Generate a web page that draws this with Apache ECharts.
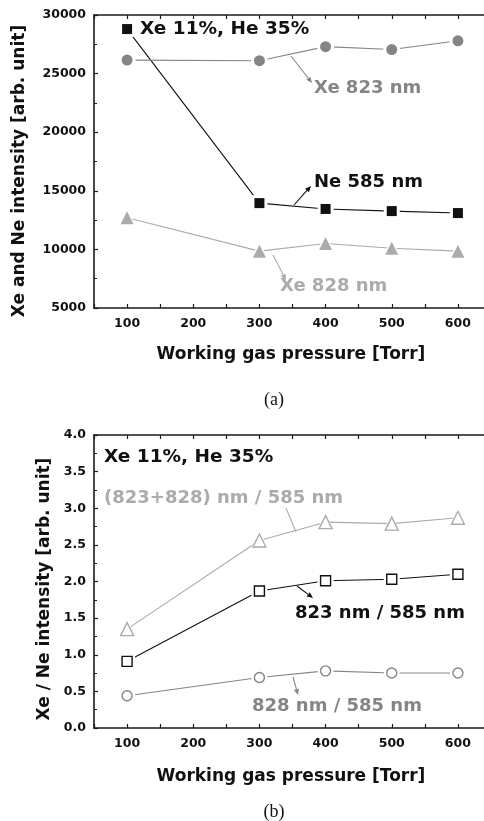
<!DOCTYPE html>
<html>
<head>
<meta charset="utf-8">
<script src="https://cdn.jsdelivr.net/npm/echarts@6/dist/echarts.min.js"></script>
<style>
  html, body { margin: 0; padding: 0; background: #fff; }
  #chart { width: 484px; height: 821px; }
</style>
</head>
<body>
<div id="chart"></div>
<script>
// Working gas pressure [Torr]
const pressure = [100, 300, 400, 500, 600];
const pressureTicks = [100, 200, 300, 400, 500, 600];

// (a) emission intensities [arb. unit]
const ne585 = [28800, 13950, 13450, 13270, 13100];
const xe823 = [26150, 26100, 27300, 27050, 27800];
const xe828 = [12700, 9850, 10500, 10100, 9850];

// (b) intensity ratios
const ratioSum = [1.35, 2.56, 2.81, 2.79, 2.87];
const ratio823 = [0.91, 1.87, 2.01, 2.03, 2.10];
const ratio828 = [0.44, 0.69, 0.78, 0.75, 0.75];

const FONT = 'DejaVu Sans';
const AXIS_COLOR = '#1a1a1a';
const BLACK = '#111';
const MID_GRAY = '#858585';
const LIGHT_GRAY = '#ababab';

const pairs = (ys) => pressure.map((x, i) => [x, ys[i]]);

function xAxisPair(gridIndex) {
  const base = {
    type: 'value', gridIndex, min: 50, max: 650, interval: 50,
    axisLine: { show: true, lineStyle: { color: AXIS_COLOR, width: 1.6 } },
    axisTick: { show: true, inside: true, length: 4, lineStyle: { color: AXIS_COLOR, width: 1.2 } },
    splitLine: { show: false }
  };
  return [
    Object.assign({}, base, {
      position: 'bottom',
      axisLabel: {
        customValues: pressureTicks, margin: 9,
        fontFamily: FONT, fontWeight: 'bold', fontSize: 12.5, color: BLACK
      }
    }),
    Object.assign({}, base, { position: 'top', axisLabel: { show: false } })
  ];
}

function yAxis(gridIndex, min, max, interval, fmt) {
  return {
    type: 'value', gridIndex, min, max, interval, position: 'left',
    axisLine: { show: true, lineStyle: { color: AXIS_COLOR, width: 1.6 } },
    axisTick: { show: true, inside: true, length: 4, lineStyle: { color: AXIS_COLOR, width: 1.2 } },
    minorTick: { show: true, splitNumber: 2, length: 3, lineStyle: { color: AXIS_COLOR, width: 1 } },
    splitLine: { show: false },
    axisLabel: {
      margin: 8, formatter: fmt,
      fontFamily: FONT, fontWeight: 'bold', fontSize: 12.5, color: BLACK
    }
  };
}

// Each curve: a plain line, a white halo that opens a small gap in the
// line around every point, and the point markers on top.
function curve(name, data, xi, yi, color, symbol, size, filled) {
  const common = { xAxisIndex: xi, yAxisIndex: yi, data: pairs(data),
                   emphasis: { disabled: true }, silent: true, animation: false };
  return [
    Object.assign({ name, type: 'line', showSymbol: false, z: 2,
                    lineStyle: { color, width: 1.1 } }, common),
    Object.assign({ type: 'scatter', symbol, symbolSize: size + 6, z: 3,
                    itemStyle: { color: '#fff', opacity: 1 } }, common),
    Object.assign({ type: 'scatter', symbol, symbolSize: size, z: 4,
                    itemStyle: filled
                      ? { color, borderWidth: 0, opacity: 1 }
                      : { color: '#fff', borderColor: color, borderWidth: 1.4, opacity: 1 } }, common)
  ];
}

function text(str, x, y, opts) {
  return {
    type: 'text', silent: true,
    rotation: (opts && opts.rotation) || 0,
    x, y,
    style: Object.assign({
      text: str, x: 0, y: 0,
      fontFamily: FONT, fontWeight: 'bold', fontSize: 18, fill: BLACK,
      align: 'left', verticalAlign: 'middle'
    }, opts && opts.style)
  };
}

function arrow(x1, y1, x2, y2, color, head) {
  const ang = Math.atan2(y2 - y1, x2 - x1);
  const len = head ? 6 : 0, half = 2.6;
  const bx = x2 - len * Math.cos(ang), by = y2 - len * Math.sin(ang);
  const px = -Math.sin(ang) * half, py = Math.cos(ang) * half;
  const parts = [
    { type: 'line', silent: true, z: 10, shape: { x1, y1, x2: bx, y2: by },
      style: { stroke: color, lineWidth: 1.1 } }
  ];
  if (head) {
    parts.push({ type: 'polygon', silent: true, z: 10,
      shape: { points: [[x2, y2], [bx + px, by + py], [bx - px, by - py]] },
      style: { fill: color } });
  }
  return parts;
}

const graphics = [
  // axis titles
  text('Xe and Ne intensity [arb. unit]', 20, 171,
       { rotation: Math.PI / 2, style: { fontSize: 17, align: 'center' } }),
  text('Working gas pressure [Torr]', 291, 355,
       { style: { fontSize: 17, align: 'center' } }),
  text('Xe / Ne intensity [arb. unit]', 45, 589,
       { rotation: Math.PI / 2, style: { fontSize: 17, align: 'center' } }),
  text('Working gas pressure [Torr]', 291, 777,
       { style: { fontSize: 17, align: 'center' } }),
  // panel captions
  text('(a)', 274, 400, { style: { fontFamily: 'Liberation Serif', fontWeight: 'normal', fontSize: 18, align: 'center' } }),
  text('(b)', 274, 812, { style: { fontFamily: 'Liberation Serif', fontWeight: 'normal', fontSize: 18, align: 'center' } }),
  // (a) annotations
  text('Xe 11%, He 35%', 140, 29, { style: { fontSize: 18.5 } }),
  text('Xe 823 nm', 314, 88, { style: { fill: MID_GRAY } }),
  text('Ne 585 nm', 314, 182),
  text('Xe 828 nm', 280, 286, { style: { fill: LIGHT_GRAY } }),
  ...arrow(291, 56, 312, 83, MID_GRAY, true),
  ...arrow(294, 205, 311, 186, BLACK, true),
  ...arrow(273, 255, 286, 280, LIGHT_GRAY, true),
  // (b) annotations
  text('Xe 11%, He 35%', 104, 457, { style: { fontSize: 18.5 } }),
  text('(823+828) nm / 585 nm', 104, 498, { style: { fill: LIGHT_GRAY } }),
  text('823 nm / 585 nm', 295, 613),
  text('828 nm / 585 nm', 252, 706, { style: { fill: MID_GRAY } }),
  ...arrow(296, 532, 286, 508, LIGHT_GRAY, false),
  ...arrow(297, 586, 313, 598, BLACK, true),
  ...arrow(293, 677, 298, 695, MID_GRAY, true)
];

const chart = echarts.init(document.getElementById('chart'), null, { renderer: 'canvas' });
chart.setOption({
  backgroundColor: '#fff',
  animation: false,
  grid: [
    { left: 94, top: 15, width: 397, height: 293, outerBoundsMode: 'none', containLabel: false },
    { left: 94, top: 435, width: 397, height: 293, outerBoundsMode: 'none', containLabel: false }
  ],
  xAxis: [...xAxisPair(0), ...xAxisPair(1)],
  yAxis: [
    yAxis(0, 5000, 30000, 5000, (v) => String(v)),
    yAxis(1, 0, 4, 0.5, (v) => v.toFixed(1))
  ],
  series: [
    ...curve('Ne 585 nm', ne585, 0, 0, BLACK, 'rect', 10, true),
    ...curve('Xe 823 nm', xe823, 0, 0, MID_GRAY, 'circle', 11, true),
    ...curve('Xe 828 nm', xe828, 0, 0, LIGHT_GRAY, 'triangle', 13, true),
    ...curve('(823+828) nm / 585 nm', ratioSum, 2, 1, LIGHT_GRAY, 'triangle', 13, false),
    ...curve('823 nm / 585 nm', ratio823, 2, 1, BLACK, 'rect', 10, false),
    ...curve('828 nm / 585 nm', ratio828, 2, 1, MID_GRAY, 'circle', 10, false)
  ],
  graphic: graphics
});
</script>
</body>
</html>
